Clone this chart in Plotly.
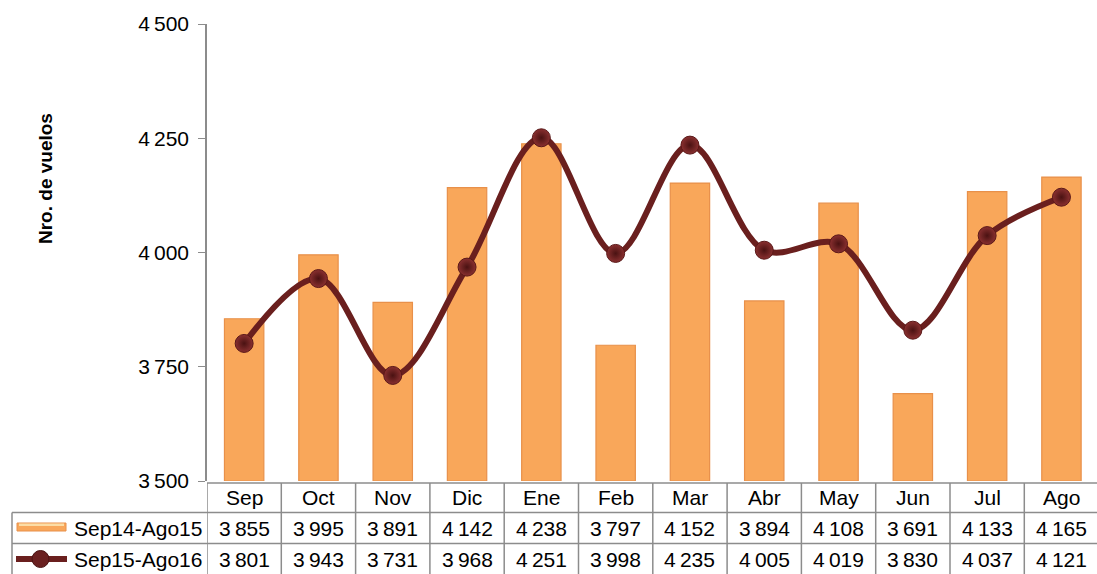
import plotly.graph_objects as go

categories = ["Sep", "Oct", "Nov", "Dic", "Ene", "Feb", "Mar", "Abr", "May", "Jun", "Jul", "Ago"]
series1_name = "Sep14-Ago15"
series1 = [3855, 3995, 3891, 4142, 4238, 3797, 4152, 3894, 4108, 3691, 4133, 4165]
series2_name = "Sep15-Ago16"
series2 = [3801, 3943, 3731, 3968, 4251, 3998, 4235, 4005, 4019, 3830, 4037, 4121]
y_tickvals = [3500, 3750, 4000, 4250, 4500]
y_ticktext = ["3\u2009500", "3\u2009750", "4\u2009000", "4\u2009250", "4\u2009500"]
y_title = "Nro. de vuelos"

W, H = 1097, 574
L, R, T, B = 207, 0, 24, 93
pw = W - L - R
ph = H - T - B
FONT = "Liberation Sans, Arial, sans-serif"
FS = 21
GRID = "#8c8c8c"

def fmt(v):
    return f"{v:,}".replace(",", "\u2009")

xs = list(range(len(categories)))
fig = go.Figure()
fig.add_trace(go.Bar(
    x=xs, y=[v - 3500 for v in series1], base=3500, width=0.53,
    marker=dict(color="#F9A75A", line=dict(color="#E8904A", width=1.2)),
    name=series1_name, showlegend=False, hoverinfo="skip"))
fig.add_trace(go.Scatter(
    x=xs, y=series2, mode="lines+markers",
    line=dict(color="#6A1F1E", width=6, shape="spline", smoothing=1.0),
    marker=dict(size=18, color="#8A3030",
                gradient=dict(type="radial", color="#4A1212"),
                line=dict(color="#5A1818", width=1)),
    name=series2_name, showlegend=False, hoverinfo="skip"))

slot = 74.3
x_end = -0.5 + pw / slot
fig.update_layout(
    width=W, height=H, margin=dict(l=L, r=R, t=T, b=B),
    paper_bgcolor="white", plot_bgcolor="white",
    font=dict(family=FONT, size=FS, color="black"),
    xaxis=dict(range=[-0.5, x_end], showticklabels=False, showgrid=False,
               zeroline=False, showline=False, ticks=""),
    yaxis=dict(range=[3500, 4500], tickvals=y_tickvals, ticktext=y_ticktext,
               showgrid=False, zeroline=False, showline=True, linecolor=GRID,
               linewidth=1.5, ticks="outside", ticklen=7, tickcolor=GRID,
               tickfont=dict(size=FS), ticklabelstandoff=5),
)

def px_to_paper_x(px):
    return (px - L) / pw

def py_to_paper_y(py):
    return (H - B - py) / ph

shapes = []
y_top = 483
y_r1 = 512.5
y_r2 = 543.5
y_bot = H + 2
x_left = 12
for yy, x0 in [(y_top, L), (y_r1, x_left), (y_r2, x_left)]:
    shapes.append(dict(type="line", xref="paper", yref="paper",
                       x0=px_to_paper_x(x0), x1=1.01, y0=py_to_paper_y(yy), y1=py_to_paper_y(yy),
                       line=dict(color=GRID, width=1.5)))
for i in range(len(categories) + 1):
    xb = i - 0.5
    shapes.append(dict(type="line", xref="x", yref="paper", x0=xb, x1=xb,
                       y0=py_to_paper_y(y_top), y1=py_to_paper_y(y_bot),
                       line=dict(color=GRID, width=1.5)))
shapes.append(dict(type="line", xref="paper", yref="paper",
                   x0=px_to_paper_x(x_left), x1=px_to_paper_x(x_left),
                   y0=py_to_paper_y(y_r1), y1=py_to_paper_y(y_bot),
                   line=dict(color=GRID, width=1.5)))
ky1 = 527
shapes.append(dict(type="rect", xref="paper", yref="paper",
                   x0=px_to_paper_x(17), x1=px_to_paper_x(66),
                   y0=py_to_paper_y(ky1 + 4), y1=py_to_paper_y(ky1 - 4),
                   fillcolor="#F9A75A", line=dict(color="#E8904A", width=1)))
shapes.append(dict(type="rect", xref="paper", yref="paper",
                   x0=px_to_paper_x(19), x1=px_to_paper_x(64),
                   y0=py_to_paper_y(ky1 - 1), y1=py_to_paper_y(ky1 - 3.5),
                   fillcolor="#FCDDA5", line=dict(width=0)))
ky2 = 559
shapes.append(dict(type="line", xref="paper", yref="paper",
                   x0=px_to_paper_x(16), x1=px_to_paper_x(67),
                   y0=py_to_paper_y(ky2), y1=py_to_paper_y(ky2),
                   line=dict(color="#6A1F1E", width=6)))
shapes.append(dict(type="circle", xref="paper", yref="paper",
                   x0=px_to_paper_x(32), x1=px_to_paper_x(49),
                   y0=py_to_paper_y(ky2 + 8.5), y1=py_to_paper_y(ky2 - 8.5),
                   fillcolor="#6A2020", line=dict(color="#4A1212", width=1)))
fig.update_layout(shapes=shapes)

anns = []
yc_h = py_to_paper_y((y_top + y_r1) / 2)
yc_1 = py_to_paper_y((y_r1 + y_r2) / 2)
yc_2 = py_to_paper_y((y_r2 + H) / 2 + 1)
for i, c in enumerate(categories):
    anns.append(dict(x=i, y=yc_h, xref="x", yref="paper", text=c, showarrow=False,
                     font=dict(size=FS), yanchor="middle"))
    anns.append(dict(x=i, y=yc_1, xref="x", yref="paper", text=fmt(series1[i]), showarrow=False,
                     font=dict(size=FS), yanchor="middle"))
    anns.append(dict(x=i, y=yc_2, xref="x", yref="paper", text=fmt(series2[i]), showarrow=False,
                     font=dict(size=FS), yanchor="middle"))
anns.append(dict(x=px_to_paper_x(204), y=yc_1, xref="paper", yref="paper", text=series1_name,
                 showarrow=False, xanchor="right", font=dict(size=FS), yanchor="middle"))
anns.append(dict(x=px_to_paper_x(204), y=yc_2, xref="paper", yref="paper", text=series2_name,
                 showarrow=False, xanchor="right", font=dict(size=FS), yanchor="middle"))
anns.append(dict(x=px_to_paper_x(45), y=py_to_paper_y(179), xref="paper", yref="paper",
                 text="<b>" + y_title + "</b>", showarrow=False, textangle=-90,
                 font=dict(size=19), xanchor="center", yanchor="middle"))
fig.update_layout(annotations=anns)

fig.write_html("out.html", config={"displayModeBar": False},
               post_script="document.body.style.margin='0';document.body.style.overflow='hidden';")
